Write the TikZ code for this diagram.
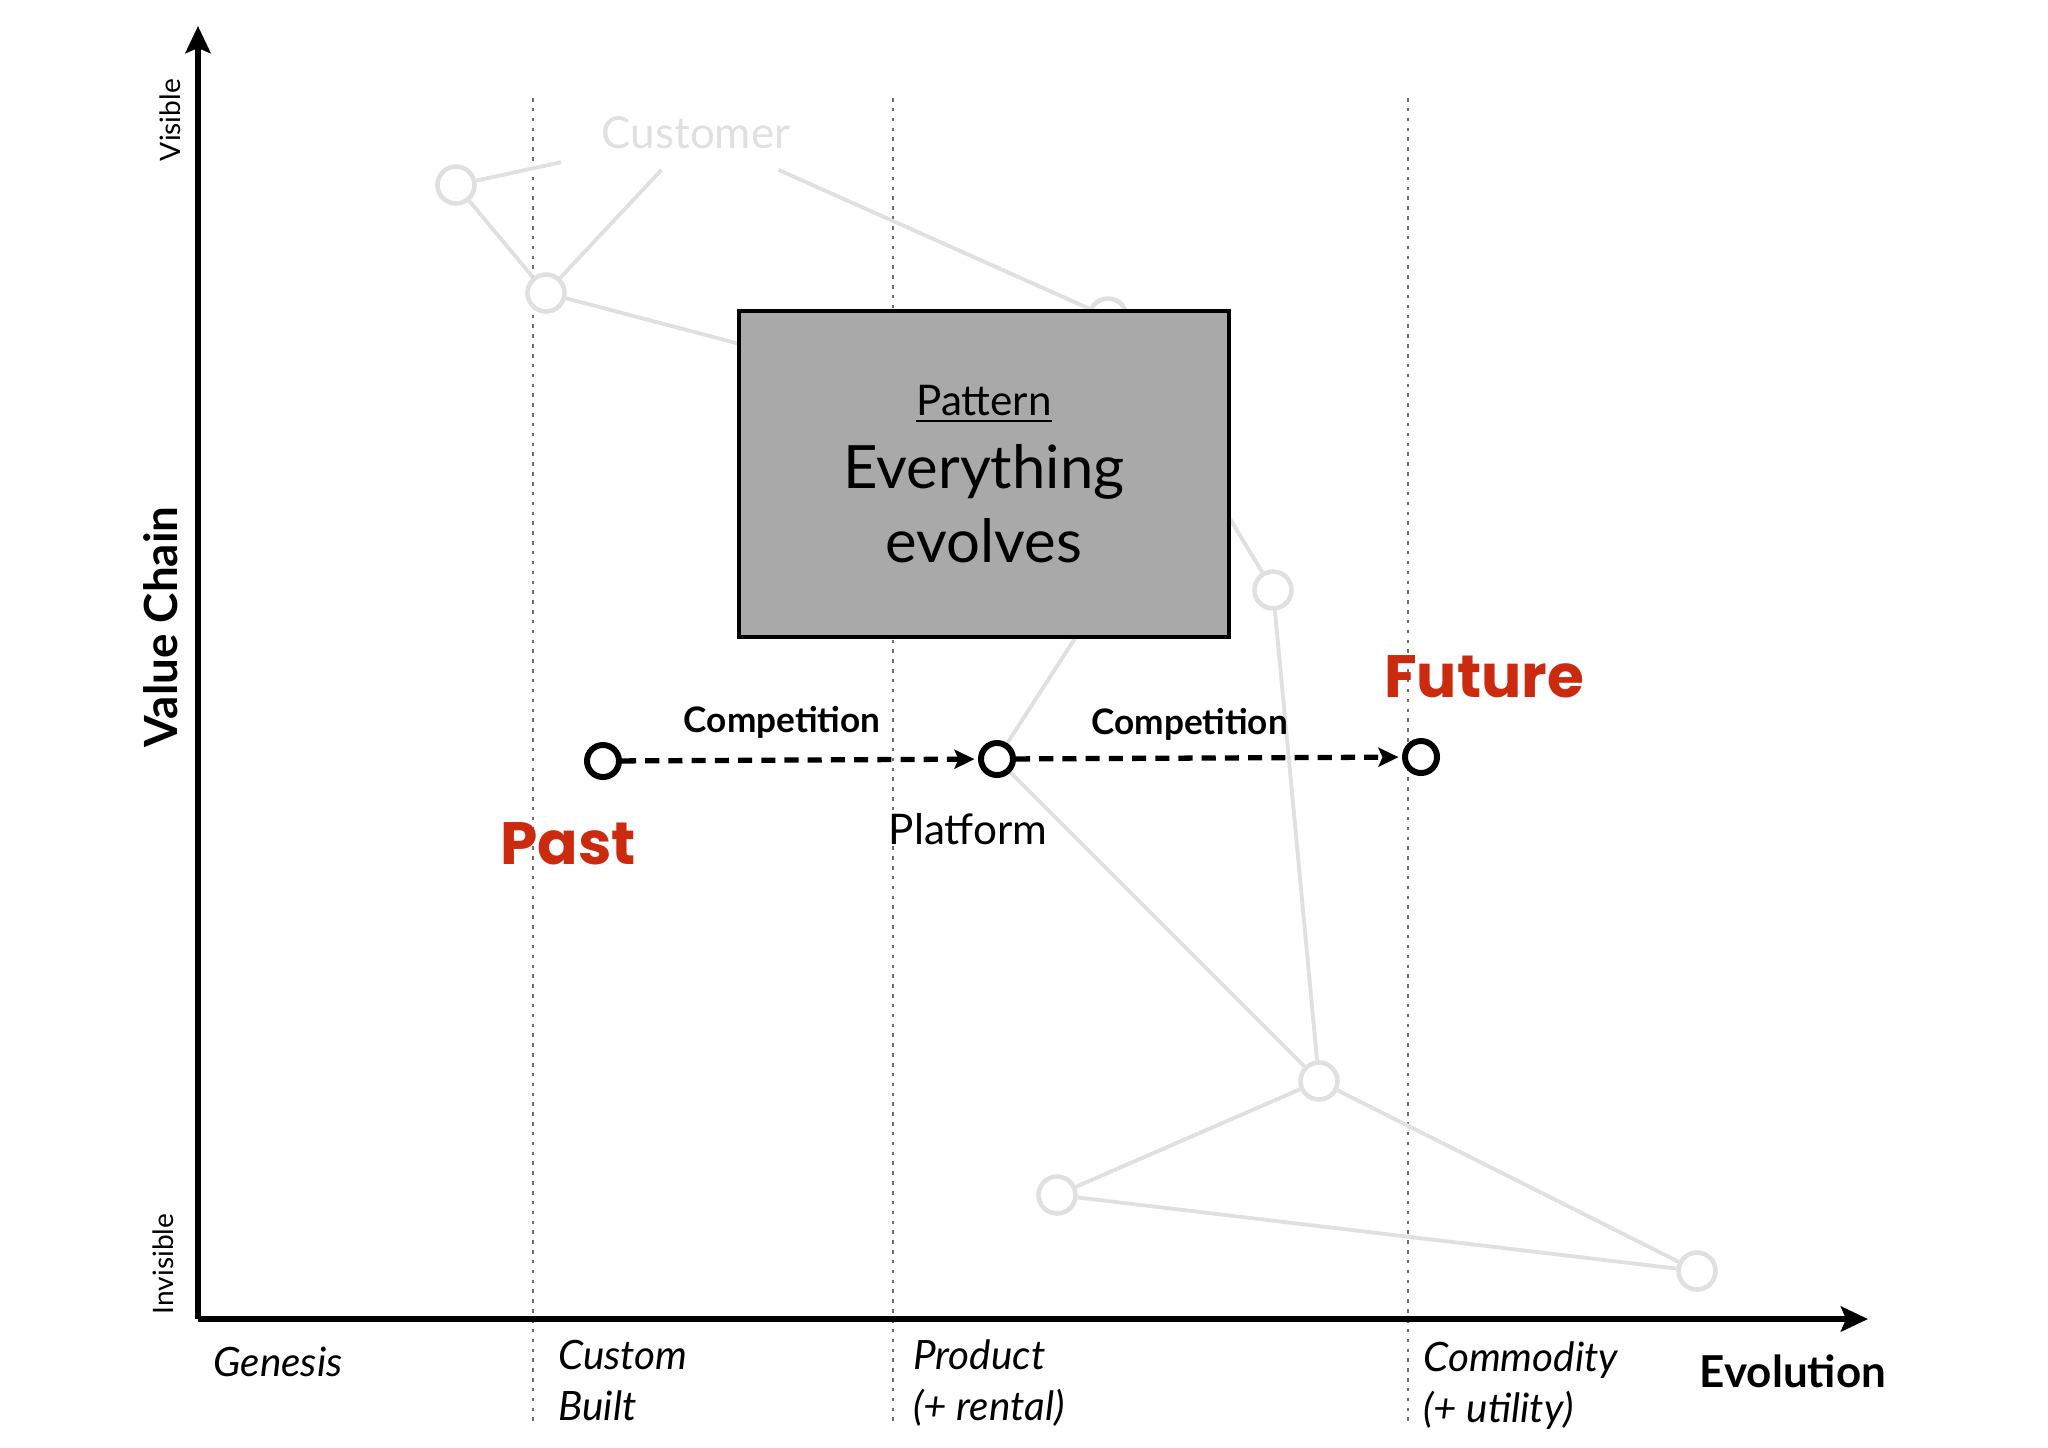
\documentclass[tikz,border=0pt]{standalone}
\usepackage{fontspec}
\setmainfont{Lato}
\newfontfamily\handfont{Poppins}
\usetikzlibrary{arrows.meta}

\definecolor{ghostgray}{HTML}{E0E0E0}
\definecolor{boxgray}{HTML}{A9A9A9}
\definecolor{markred}{HTML}{CC2A0E}
\definecolor{gridgray}{HTML}{6E6E6E}

\tikzset{
    ghost/.style={circle, draw=ghostgray, fill=white, line width=1.3pt,
        minimum size=0.37cm, inner sep=0pt},
    ghostline/.style={draw=ghostgray, line width=1.1pt},
    stage/.style={circle, draw, fill=white, line width=1.7pt,
        minimum size=0.32cm, inner sep=0pt},
    competes/.style={line width=1.5pt, dash pattern=on 4pt off 2.6pt,
        -{Stealth[length=0.2cm, width=0.19cm, inset=0.04cm]}, shorten >=1pt},
    axis/.style={line width=1.6pt,
        -{Stealth[length=0.27cm, width=0.25cm, inset=0.05cm]}},
    phase/.style={anchor=west, align=left,
        font=\fontsize{11.5}{14.5}\selectfont\itshape},
    era/.style={text=markred, font=\handfont\bfseries\fontsize{17}{20}\selectfont},
}

\begin{document}
\begin{tikzpicture}[x=0.01cm, y=-0.01cm]
    \useasboundingbox (0,0) rectangle (2048,1447);

    % stage boundaries
    \draw [gridgray, line width=0.8pt, dash pattern=on 1pt off 1.8pt]
        (533,98) -- (533,1424)
        (893,98) -- (893,1424)
        (1408,98) -- (1408,1424)
        ;

    % faded value chain
    \node (customer) at (696,133) [text=ghostgray, inner xsep=0.4cm, inner ysep=0.2cm,
        font=\fontsize{12.5}{14}\selectfont] {Customer};
    \node (ga) at (456,185) [ghost] {};
    \node (gb) at (546,293) [ghost] {};
    \node (gc) at (1108,317) [ghost] {};
    \node (gh) at (1189,462) [ghost] {};
    \node (gd) at (1273,590) [ghost] {};
    \node (ge) at (1319,1081) [ghost] {};
    \node (gf) at (1057,1195) [ghost] {};
    \node (gg) at (1697,1271) [ghost] {};
    \coordinate (gp) at (997,759);

    \draw [ghostline]
        (ga) -- (customer)
        (gb) -- (customer)
        (customer) -- (gc)
        (ga) -- (gb)
        (gb) -- (gh)
        (gc) -- (gd)
        (gd) -- (ge)
        (gp) -- (gh)
        (gp) -- (ge)
        (ge) -- (gf)
        (gf) -- (gg)
        (ge) -- (gg)
        ;

    % pattern box
    \node (pattern) at (984,474) [draw, fill=boxgray, line width=1.3pt,
        minimum width=4.9cm, minimum height=3.26cm, align=center,
        font=\fontsize{17}{20.8}\selectfont]
        {{\fontsize{12}{20.8}\selectfont\underline{Pattern}}\\
         Everything\\evolves};

    % evolution of the platform
    \node (past) at (603,761) [stage] {};
    \node (platform) at (997,759) [stage] {};
    \node (future) at (1421,757) [stage] {};

    \draw [competes] (past) -- (platform)
        node [pos=0.45, above=0.07cm, font=\fontsize{10}{12}\selectfont\bfseries] (comp1) {Competition};
    \draw [competes] (platform) -- (future)
        node [pos=0.45, above=0.03cm, font=\fontsize{10}{12}\selectfont\bfseries] (comp2) {Competition};

    \node (pastlabel) at (568,844) [era] {Past};
    \node (futurelabel) at (1484,677) [era] {Future};
    \node (platformlabel) at (968,829) [font=\fontsize{12}{14}\selectfont] {Platform};

    % axes
    \coordinate (origin) at (198,1319);
    \coordinate (top) at (198,26);
    \coordinate (right) at (1868,1319);
    \draw [axis] (origin) -- (top);
    \draw [axis] (origin) -- (right);

    \node (visible) at (170,120) [rotate=90, font=\fontsize{8}{9}\selectfont] {Visible};
    \node (valuechain) at (161,627) [rotate=90, font=\fontsize{13}{15}\selectfont\bfseries] {Value Chain};
    \node (invisible) at (163,1264) [rotate=90, font=\fontsize{8}{9}\selectfont] {Invisible};

    \node (genesis) at (201,1362) [phase] {Genesis};
    \node (custom) at (546,1380) [phase] {Custom\\Built};
    \node (product) at (901,1383) [phase] {Product\\(+ rental)};
    \node (commodity) at (1411,1386) [phase] {Commodity\\(+ utility)};
    \node (evolution) at (1793,1371) [font=\fontsize{12.5}{14}\selectfont\bfseries] {Evolution};
\end{tikzpicture}
\end{document}
